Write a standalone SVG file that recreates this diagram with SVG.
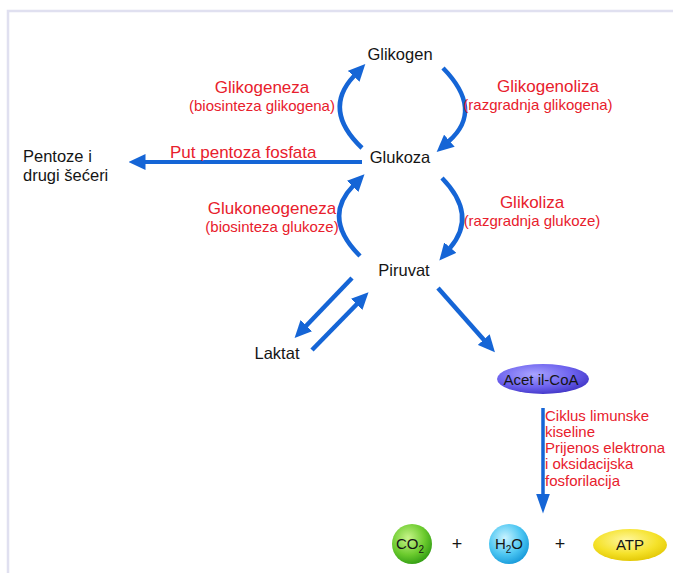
<svg xmlns="http://www.w3.org/2000/svg" width="673" height="573" viewBox="0 0 673 573">
<defs>
<style>
.node{font-family:"Liberation Sans",Arial,sans-serif;font-size:16.5px;fill:#151515}
.t{font-family:"Liberation Sans",Arial,sans-serif;font-size:17px;fill:#e8202c}
.s{font-family:"Liberation Sans",Arial,sans-serif;font-size:15px;fill:#e8202c}
.m{font-family:"Liberation Sans",Arial,sans-serif;font-size:15px;fill:#151515}
.c{fill:none;stroke:#1565d6;stroke-width:4.5;marker-end:url(#ah)}
</style>
<marker id="ah" markerUnits="userSpaceOnUse" markerWidth="17" markerHeight="16" refX="0.5" refY="8" orient="auto" viewBox="0 0 17 16">
<path d="M0,0 L17,8 L0,16 z" fill="#1565d6"/>
</marker>
<marker id="ah2" markerUnits="userSpaceOnUse" markerWidth="20" markerHeight="14" refX="0.5" refY="7" orient="auto" viewBox="0 0 20 14">
<path d="M0,0 L20,7 L0,14 z" fill="#1565d6"/>
</marker>
<radialGradient id="gAc" cx="0.4" cy="0.35" r="0.7">
<stop offset="0" stop-color="#a9a4ff"/><stop offset="0.6" stop-color="#6d62ee"/><stop offset="1" stop-color="#3f33c4"/>
</radialGradient>
<radialGradient id="gCO" cx="0.4" cy="0.35" r="0.7">
<stop offset="0" stop-color="#c8f58a"/><stop offset="0.6" stop-color="#6ccb2e"/><stop offset="1" stop-color="#2e9a12"/>
</radialGradient>
<radialGradient id="gH" cx="0.4" cy="0.35" r="0.7">
<stop offset="0" stop-color="#c9f3ff"/><stop offset="0.6" stop-color="#4cc6f2"/><stop offset="1" stop-color="#1497d8"/>
</radialGradient>
<radialGradient id="gATP" cx="0.45" cy="0.35" r="0.7">
<stop offset="0" stop-color="#fff7a0"/><stop offset="0.6" stop-color="#f5e22a"/><stop offset="1" stop-color="#e0c400"/>
</radialGradient>
</defs>
<rect width="673" height="573" fill="#ffffff"/>
<path d="M8 576 V11 H676" fill="none" stroke="#e0e0f0" stroke-width="2.5"/>
<g id="connectors">
<path class="c" d="M362 148 Q322 110 354 76"/>
<path class="c" d="M443 68 Q484 110 449 141"/>
<path class="c" d="M360 256 Q322 218 353 186"/>
<path class="c" d="M442 178 Q478 215 450 248"/>
<path class="c" d="M362 162 L145 162" style="stroke-width:4"/>
<path class="c" d="M352 278 L306 326"/>
<path class="c" d="M312 350 L357 304"/>
<path class="c" d="M438 288 L484 340"/>
<path d="M543 408 L543 494" fill="none" stroke="#1565d6" stroke-width="3.5" marker-end="url(#ah2)"/>
</g>
<g id="edge-labels">
<text class="t" x="262" y="93" text-anchor="middle">Glikogeneza</text>
<text class="s" x="262" y="111" text-anchor="middle">(biosinteza glikogena)</text>
<text class="t" x="548" y="92" text-anchor="middle">Glikogenoliza</text>
<text class="s" x="538" y="110" text-anchor="middle">(razgradnja glikogena)</text>
<text class="t" x="170" y="158">Put pentoza fosfata</text>
<text class="t" x="272" y="214" text-anchor="middle">Glukoneogeneza</text>
<text class="s" x="272" y="232" text-anchor="middle">(biosinteza glukoze)</text>
<text class="t" x="532" y="208" text-anchor="middle">Glikoliza</text>
<text class="s" x="532" y="226" text-anchor="middle">(razgradnja glukoze)</text>
<text class="s" x="545" y="421">Ciklus limunske</text>
<text class="s" x="545" y="437">kiseline</text>
<text class="s" x="545" y="453">Prijenos elektrona</text>
<text class="s" x="545" y="469">i oksidacijska</text>
<text class="s" x="545" y="486">fosforilacija</text>
</g>
<g id="glikogen"><text class="node" x="400" y="60" text-anchor="middle">Glikogen</text></g>
<g id="glukoza"><text class="node" x="400" y="163" text-anchor="middle">Glukoza</text></g>
<g id="pentoze"><text class="node" x="23" y="162">Pentoze i</text><text class="node" x="23" y="181">drugi šećeri</text></g>
<g id="piruvat"><text class="node" x="404" y="276" text-anchor="middle">Piruvat</text></g>
<g id="laktat"><text class="node" x="277" y="359" text-anchor="middle">Laktat</text></g>
<g id="acetil-coa">
<ellipse cx="543" cy="379" rx="46" ry="15" fill="url(#gAc)"/>
<text class="m" x="541" y="385" text-anchor="middle" fill="#10104a">Acet il-CoA</text>
</g>
<g id="co2">
<circle cx="412" cy="544" r="20" fill="url(#gCO)"/>
<text class="m" x="410" y="549" text-anchor="middle">CO<tspan font-size="10" dy="4">2</tspan></text>
</g>
<g id="plus1"><text class="node" x="457" y="550" text-anchor="middle" style="font-size:18px">+</text></g>
<g id="h2o">
<circle cx="509" cy="544" r="20" fill="url(#gH)"/>
<text class="m" x="509" y="549" text-anchor="middle">H<tspan font-size="10" dy="4">2</tspan><tspan dy="-4">O</tspan></text>
</g>
<g id="plus2"><text class="node" x="560" y="550" text-anchor="middle" style="font-size:18px">+</text></g>
<g id="atp">
<ellipse cx="630" cy="545" rx="37" ry="16" fill="url(#gATP)"/>
<text class="m" x="630" y="550" text-anchor="middle">ATP</text>
</g>
</svg>
